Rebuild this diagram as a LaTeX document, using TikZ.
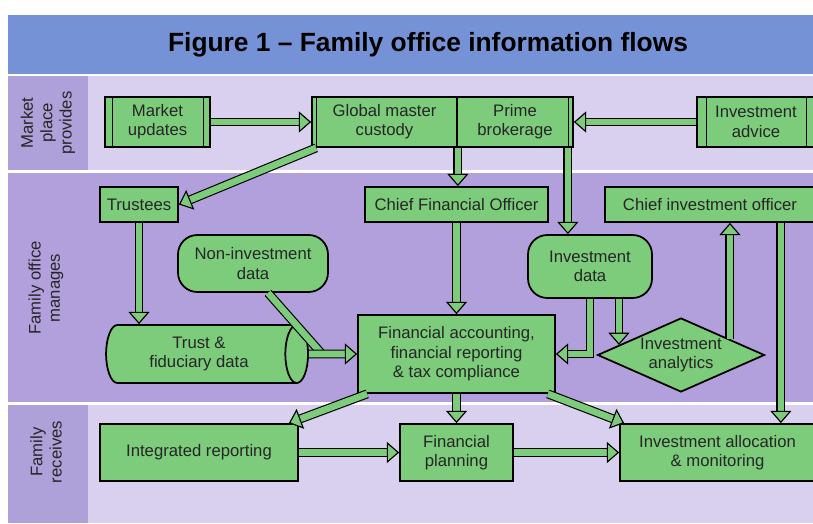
\documentclass[tikz,border=0pt]{standalone}
\usepackage{fontspec}
\setmainfont{Liberation Sans}
\usetikzlibrary{shapes.geometric,arrows.meta,calc}
\definecolor{boxgreen}{RGB}{124,204,124}
\definecolor{titleblue}{RGB}{118,146,214}
\definecolor{bandlight}{RGB}{216,208,238}
\definecolor{bandpurple}{RGB}{178,160,220}
\definecolor{labelpurple}{RGB}{174,160,216}

\begin{document}
\begin{tikzpicture}[x=0.02cm,y=-0.02cm,
  every node/.style={font=\fontsize{9.5}{11}\selectfont,align=center,text=black!85},
  box/.style={draw,fill=boxgreen,line width=1pt,inner sep=1pt},
  lane/.style={font=\fontsize{9.5}{11}\selectfont,rotate=90},
  flow/.style={draw=black,line width=0.65pt,double=boxgreen,double distance=3.8pt,
    -{Triangle[length=7pt,width=12pt,fill=boxgreen]}},
  joint/.style={draw=black,line width=0.65pt,double=boxgreen,double distance=3.8pt}]
\useasboundingbox (0,0) rectangle (813,523);
% bands
\fill[titleblue] (8,15) rectangle (813,74);
\fill[bandlight] (8,76) rectangle (813,170);
\fill[labelpurple] (8,76) rectangle (88,170);
\fill[bandpurple] (8,173) rectangle (813,402);
\fill[bandlight] (8,405) rectangle (813,523);
\fill[labelpurple] (8,405) rectangle (88,523);
\node[font=\fontsize{15}{18}\bfseries\selectfont,text=black] (title) at (428,45)
  {Figure 1 – Family office information flows};
\node[lane] (provides) at (48,123) {Market\\place\\provides};
\node[lane] (manages) at (46,288) {Family office\\manages};
\node[lane] (receives) at (46,452) {Family\\receives};

% market place
\node[box,minimum width=2.1cm,minimum height=1cm] (mkt) at (157.5,122) {Market\\updates};
\node[box,minimum width=2.9cm,minimum height=1cm] (gmc) at (384.5,122) {Global master\\custody};
\node[box,minimum width=2.32cm,minimum height=1cm] (prime) at (515,122) {Prime\\brokerage};
\node[box,minimum width=2.36cm,minimum height=1cm] (adv) at (756,122) {Investment\\advice};
\draw ($(mkt.north west)+(8,0)$) -- ($(mkt.south west)+(8,0)$);
\draw ($(mkt.north east)+(-8,0)$) -- ($(mkt.south east)+(-8,0)$);
\draw ($(gmc.north west)+(5,0)$) -- ($(gmc.south west)+(5,0)$);
\draw ($(prime.north east)+(-6,0)$) -- ($(prime.south east)+(-6,0)$);
\draw ($(adv.north west)+(10,0)$) -- ($(adv.south west)+(10,0)$);
\draw ($(adv.north east)+(-10,0)$) -- ($(adv.south east)+(-10,0)$);

% family office
\node[box,minimum width=1.56cm,minimum height=0.7cm] (trustees) at (139,204.5) {Trustees};
\node[box,minimum width=3.66cm,minimum height=0.7cm] (cfo) at (456.5,204.5) {Chief Financial Officer};
\node[box,minimum width=4.2cm,minimum height=0.7cm] (cio) at (710,204.5) {Chief investment officer};
\node[box,rounded corners=11pt,minimum width=3cm,minimum height=1.14cm] (noninv) at (253,263.5)
  {Non-investment\\data};
\node[box,rounded corners=11pt,minimum width=2.48cm,minimum height=1.26cm] (invdata) at (590,266.5)
  {Investment\\data};
\node[box,cylinder,shape aspect=0.6,minimum width=1.16cm,minimum height=4.04cm] (trust) at (199,354)
  {Trust \&\\fiduciary data};
\node[box,minimum width=3.94cm,minimum height=1.56cm] (fa) at (456.5,354)
  {Financial accounting,\\financial reporting\\\& tax compliance};
\node[box,diamond,aspect=2.25,inner sep=0pt,minimum width=3.34cm,minimum height=1.48cm] (analytics)
  at (681,355) {Investment\\analytics};

% family receives
\node[box,minimum width=3.96cm,minimum height=1.14cm] (intrep) at (199,452.5) {Integrated reporting};
\node[box,minimum width=2.26cm,minimum height=1.14cm] (finplan) at (456.5,452.5) {Financial\\planning};
\node[box,minimum width=3.9cm,minimum height=1.14cm] (alloc) at (717.5,452.5)
  {Investment allocation\\\& monitoring};

% flows
\coordinate (j) at (322,354);
\coordinate (p) at ($(analytics.west)!0.265!(analytics.north)$);
\coordinate (q) at ($(analytics.north)!0.58!(analytics.east)$);
\coordinate (g) at ($(gmc.south west)+(5,0)$);
\coordinate (b) at ($(prime.south east)+(-6,0)$);
\coordinate (c) at ($(cio.south east)+(-35,0)$);
\draw[flow] (mkt.east) -- (gmc.west);
\draw[flow] (adv.west) -- (prime.east);
\draw[flow] (g) -- (trustees.east);
\draw[flow] (gmc.south east) -- (gmc.south east |- cfo.north);
\draw[flow] (b) -- (b |- invdata.north);
\draw[flow] (trustees.south) -- (trustees.south |- trust.north);
\draw[joint] ($(noninv.south)+(15,0)$) -- (j);
\draw[flow] (trust.east) -- (fa.west);
\draw[flow] (cfo.south) -- (fa.north);
\draw[flow] (invdata.south) |- (fa.east);
\draw[flow] (invdata.south -| p) -- (p);
\draw[flow] (q) -- (q |- cio.south);
\draw[flow] (c) -- (c |- alloc.north);
\draw[flow] ($(fa.south west)+(10,0)$) -- ($(intrep.north east)+(-10,0)$);
\draw[flow] (fa.south) -- (finplan.north);
\draw[flow] ($(fa.south east)+(-8,0)$) -- ($(alloc.north west)+(5,0)$);
\draw[flow] (intrep.east) -- (finplan.west);
\draw[flow] (finplan.east) -- (alloc.west);
\end{tikzpicture}
\end{document}
